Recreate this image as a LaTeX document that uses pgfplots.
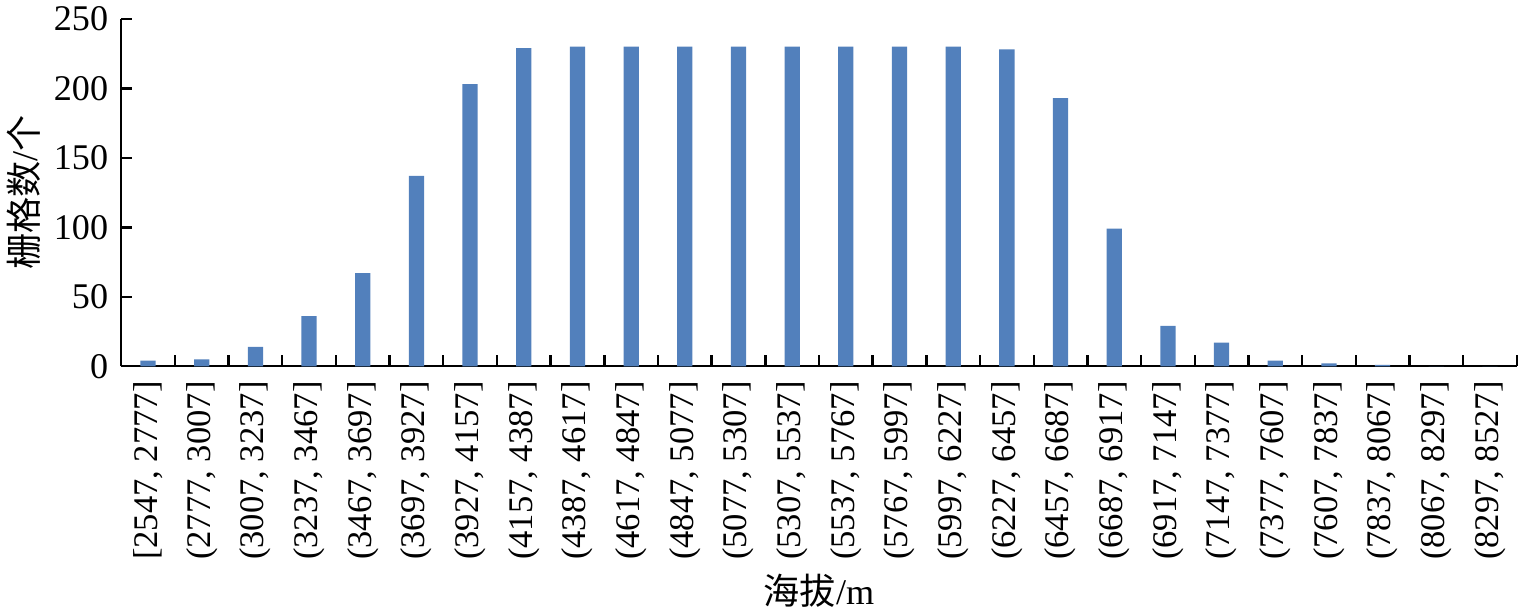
\documentclass[border=0pt]{standalone}
\usepackage{fontspec}
\setmainfont{Liberation Serif}
\newfontfamily\cjk{Noto Sans CJK SC}
\usepackage{pgfplots}
\pgfplotsset{compat=1.18}
\definecolor{barblue}{RGB}{82,128,188}
\begin{document}
\begin{tikzpicture}
\begin{axis}[
  scale only axis,
  width=695pt, height=173pt,
  xmin=0.5, xmax=26.5,
  ymin=0, ymax=250,
  ytick={0,50,...,250},
  axis x line=bottom,
  axis y line=left,
  axis line style={line width=1.2pt, black, -},
  xtick={1.5,2.5,...,26.5},
  xticklabels={{[2547, 2777]},{(2777, 3007]},{(3007, 3237]},{(3237, 3467]},{(3467, 3697]},{(3697, 3927]},{(3927, 4157]},{(4157, 4387]},{(4387, 4617]},{(4617, 4847]},{(4847, 5077]},{(5077, 5307]},{(5307, 5537]},{(5537, 5767]},{(5767, 5997]},{(5997, 6227]},{(6227, 6457]},{(6457, 6687]},{(6687, 6917]},{(6917, 7147]},{(7147, 7377]},{(7377, 7607]},{(7607, 7837]},{(7837, 8067]},{(8067, 8297]},{(8297, 8527]}},
  xtick align=inside,
  ytick align=inside,
  xtick style={draw=black, line width=1.2pt},
  ytick style={draw=black, line width=1.2pt},
  tickwidth=5.5pt,
  xticklabel shift=4pt,
  x tick label style={xshift=-13.365pt, rotate=90, anchor=east, font=\fontsize{17.2}{20}\selectfont},
  y tick label style={font=\fontsize{18}{21}\selectfont},
  yticklabel shift=3pt,
  /pgf/number format/assume math mode=true,
  xlabel={{\cjk 海拔}/m},
  ylabel={{\cjk 栅格数}/{\cjk 个}},
  label style={font=\fontsize{18}{21}\selectfont},
  tick label style={black},
  clip=false,
]
\addplot[ybar, bar width=7.6pt, fill=barblue, draw=none] coordinates {
(1,4)(2,5)(3,14)(4,36)(5,67)(6,137)(7,203)(8,229)(9,230)(10,230)(11,230)(12,230)(13,230)(14,230)(15,230)(16,230)(17,228)(18,193)(19,99)(20,29)(21,17)(22,4)(23,2)(24,1)(25,0)(26,0)
};
\pgfplotsinvokeforeach{1.5,2.5,...,26.5}{
  \draw[black, line width=1.2pt] (axis cs:#1,0) -- ++(0pt,5.5pt);
}
\pgfplotsinvokeforeach{50,100,...,250}{
  \draw[black, line width=1.2pt] (axis cs:0.5,#1) -- ++(5.5pt,0pt);
}
\end{axis}
\end{tikzpicture}
\end{document}
